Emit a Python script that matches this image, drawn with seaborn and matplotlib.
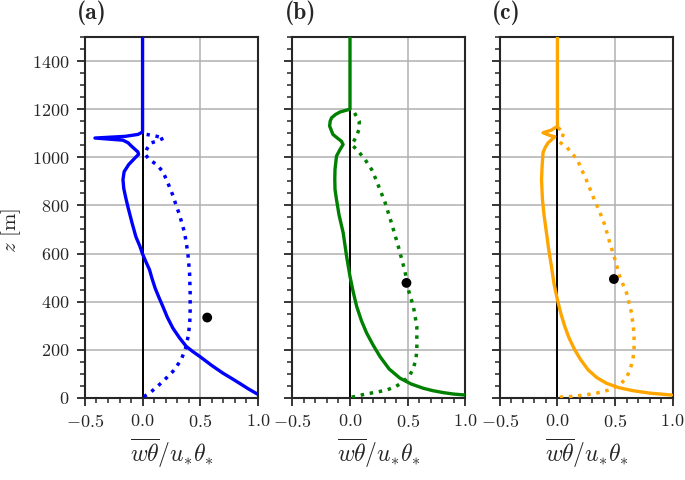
import matplotlib
matplotlib.use("Agg")
import matplotlib.pyplot as plt
from matplotlib.ticker import MultipleLocator
import seaborn as sns

# (a) blue
a_solid_x = [1.0, 0.92, 0.841, 0.77, 0.697, 0.6, 0.497, 0.435, 0.379, 0.32, 0.263, 0.215, 0.176, 0.14, 0.11,
             0.083, 0.06, 0.03, 0.0, -0.023, -0.058, -0.09, -0.125, -0.145, -0.163, -0.17, -0.16, -0.12,
             -0.07, -0.035, -0.04, -0.07, -0.1, -0.125, -0.17, -0.413, -0.15, -0.04, 0.0, 0.0]
a_solid_z = [15, 37, 61, 82, 103, 135, 172, 193, 214, 250, 290, 335, 380, 420, 455,
             495, 533, 565, 598, 630, 670, 725, 790, 830, 870, 907, 940, 970,
             995, 1012, 1022, 1035, 1048, 1060, 1071, 1080, 1087, 1095, 1105, 1500]
a_dot_x = [0.01, 0.04, 0.075, 0.13, 0.19, 0.263, 0.335, 0.379, 0.40, 0.41, 0.413, 0.413, 0.408, 0.393,
           0.365, 0.32, 0.286, 0.266, 0.235, 0.208, 0.173, 0.121, 0.057, 0.02, 0.04, 0.075, 0.13, 0.185,
           0.115, 0.035]
a_dot_z = [5, 14, 26, 48, 75, 110, 158, 214, 269, 320, 366, 436, 519, 602,
           686, 762, 808, 838, 875, 907, 942, 970, 991, 1014, 1037, 1060, 1068, 1080,
           1088, 1095]
a_point = (0.561, 334)

# (b) green
b_solid_x = [1.0, 0.9, 0.81, 0.72, 0.637, 0.53, 0.434, 0.34, 0.26, 0.2, 0.145, 0.1, 0.058, 0.028, 0.0,
             -0.03, -0.059, -0.095, -0.117, -0.13, -0.132, -0.13, -0.117, -0.087, -0.06, -0.075, -0.11,
             -0.148, -0.177, -0.172, -0.16, -0.125, -0.087, 0.0, 0.0]
b_solid_z = [12, 16, 22, 30, 40, 58, 82, 120, 172, 220, 269, 320, 380, 440, 505,
             590, 686, 760, 824, 866, 910, 950, 1005, 1032, 1053, 1067, 1080,
             1095, 1130, 1150, 1164, 1178, 1188, 1200, 1500]
b_dot_x = [0.015, 0.07, 0.145, 0.23, 0.32, 0.4, 0.464, 0.52, 0.55, 0.572, 0.58, 0.58, 0.55, 0.506,
           0.477, 0.419, 0.36, 0.305, 0.26, 0.226, 0.188, 0.13, 0.072, 0.015, 0.05, 0.08, 0.08, 0.03, 0.0]
b_dot_z = [3, 9, 17, 24, 33, 48, 68, 95, 124, 160, 200, 297, 380, 450,
           526, 630, 727, 811, 866, 907, 949, 991, 1025, 1053, 1081, 1118, 1150, 1192, 1200]
b_point = (0.49, 478)

# (c) orange
c_solid_x = [0.99, 0.8, 0.656, 0.53, 0.425, 0.34, 0.266, 0.2, 0.15, 0.1, 0.064, 0.03, 0.0, -0.03,
             -0.052, -0.075, -0.095, -0.115, -0.13, -0.138, -0.133, -0.125, -0.105, -0.081, -0.023,
             -0.067, -0.125, -0.052, 0.0, 0.0]
c_solid_z = [12, 20, 30, 43, 61, 85, 117, 160, 200, 250, 297, 350, 408, 475,
             547, 615, 686, 755, 824, 907, 963, 1019, 1042, 1060, 1085,
             1091, 1102, 1113, 1129, 1500]
c_dot_x = [0.02, 0.09, 0.165, 0.25, 0.34, 0.45, 0.555, 0.6, 0.63, 0.655, 0.665, 0.665, 0.643, 0.6,
           0.54, 0.5, 0.455, 0.41, 0.365, 0.32, 0.25, 0.21, 0.178, 0.135, 0.084, 0.02, 0.058, 0.0]
c_dot_z = [3, 5, 8, 13, 20, 33, 61, 85, 117, 160, 200, 269, 353, 436,
           505, 575, 644, 720, 775, 824, 907, 949, 984, 1012, 1040, 1063, 1102, 1125]
c_point = (0.49, 494)

panels = [("(a)", "blue", a_solid_x, a_solid_z, a_dot_x, a_dot_z, a_point),
          ("(b)", "green", b_solid_x, b_solid_z, b_dot_x, b_dot_z, b_point),
          ("(c)", "orange", c_solid_x, c_solid_z, c_dot_x, c_dot_z, c_point)]

sns.set_style("ticks")
plt.rcParams.update({
    "font.family": "cmr10",
    "mathtext.fontset": "cm",
    "axes.formatter.use_mathtext": True,
    "font.size": 13,
    "axes.linewidth": 1.5,
    "xtick.major.width": 1.3, "ytick.major.width": 1.3,
    "xtick.minor.width": 1.1, "ytick.minor.width": 1.1,
    "xtick.major.size": 5.5, "ytick.major.size": 5.5,
    "xtick.minor.size": 3.5, "ytick.minor.size": 3.5,
    "xtick.major.pad": 5.5, "ytick.major.pad": 5.5,
})

fig, axes = plt.subplots(1, 3, figsize=(6.85, 4.8), dpi=100, sharey=True)
fig.subplots_adjust(left=0.124, right=0.982, bottom=0.171, top=0.923, wspace=0.2)

for ax, (lab, col, sx, sz, dx, dz, pt) in zip(axes, panels):
    ax.grid(True, color="#b0b0b0", lw=1.1)
    ax.set_axisbelow(True)
    ax.axvline(0, color="black", lw=1.4, zorder=2)
    sns.lineplot(x=sx, y=sz, sort=False, estimator=None, color=col, lw=2.4, ax=ax, zorder=3)
    sns.lineplot(x=dx, y=dz, sort=False, estimator=None, color=col, lw=2.5, linestyle=":", ax=ax, zorder=3)
    sns.scatterplot(x=[pt[0]], y=[pt[1]], color="black", s=50, edgecolor="none", ax=ax, zorder=4)
    ax.set_xlim(-0.5, 1.0)
    ax.set_ylim(0, 1500)
    ax.xaxis.set_major_locator(MultipleLocator(0.5))
    ax.xaxis.set_minor_locator(MultipleLocator(0.1))
    ax.yaxis.set_major_locator(MultipleLocator(200))
    ax.yaxis.set_minor_locator(MultipleLocator(50))
    ax.set_xlabel(r"$\overline{w\theta}/u_{*}\theta_{*}$", fontsize=17, labelpad=4)
    ax.text(-0.046, 1.033, lab, transform=ax.transAxes, ha="left", va="bottom",
            fontfamily="cmb10", fontsize=17)

axes[0].set_ylabel(r"$z$ [m]", fontsize=15)
axes[0].yaxis.set_label_coords(-0.36, 0.465)

fig.savefig("out.png", dpi=100)
